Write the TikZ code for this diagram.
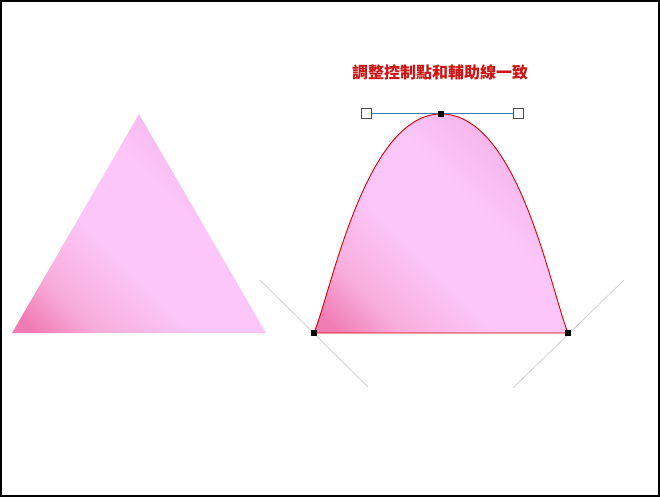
\documentclass[tikz,border=0pt]{standalone}
\usepackage{fontspec}
\newfontfamily\cjk{Noto Sans CJK TC}

\definecolor{pkdark}{HTML}{F07CB4}
\definecolor{pkmid}{HTML}{F8AEDC}
\definecolor{pklight}{HTML}{FCC6F8}
\definecolor{pktop}{HTML}{F6B4EA}
\definecolor{titlered}{HTML}{CC1414}
\definecolor{handleblue}{HTML}{3A78B0}

\pgfdeclareverticalshading{pinkfade}{100bp}{color(0bp)=(pkdark); color(18bp)=(pkdark); color(28bp)=(pkmid); color(42bp)=(pklight); color(58bp)=(pklight); color(72bp)=(pktop); color(100bp)=(pktop)}

\begin{document}
\begin{tikzpicture}[
  x=1pt, y=-1pt,
  every node/.style={inner sep=0pt, outer sep=0pt},
  knot/.style={fill=black, minimum size=6pt},
  handle/.style={draw=black!70, fill=white, line width=1pt, minimum size=10pt},
  guide/.style={draw=black!18, line width=0.8pt},
  pinkfill/.style={shading=pinkfade, shading angle=-45}
]

\useasboundingbox (0,0) rectangle (660,497);
\draw[line width=2pt] (1,1) rectangle (659,496);

% POINTS
\coordinate (apex) at (139,114);
\coordinate (tl) at (12,333);
\coordinate (tr) at (266,333);
\coordinate (bl) at (314,333);
\coordinate (top) at (441,114);
\coordinate (br) at (568,333);
\coordinate (hl) at (366,114);
\coordinate (hr) at (518,114);

% TRIANGLE
\shade[pinkfill] (apex) -- (tl) -- (tr) -- cycle;

% GUIDES
\coordinate (gla) at (260,280);
\coordinate (glb) at (368,387);
\coordinate (gra) at (624,280);
\coordinate (grb) at (513,388);
\draw[guide] (gla) -- (glb);
\draw[guide] (gra) -- (grb);

% BELL
\shadedraw[pinkfill, draw=red!85!black, line width=0.9pt]
  (bl) .. controls (332,288) and (hl) .. (top)
       .. controls (hr) and (550,288) .. (br) -- cycle;

\draw[handleblue, line width=1pt] (hl) -- (hr);

\node[knot] (blk) at (bl) {};
\node[knot] (topk) at (top) {};
\node[knot] (brk) at (br) {};
\node[handle] (hlk) at (hl) {};
\node[handle] (hrk) at (hr) {};

\node[font=\cjk\bfseries\fontsize{16}{16}\selectfont, text=titlered] (title) at (440,72) {調整控制點和輔助線一致};

\end{tikzpicture}
\end{document}
